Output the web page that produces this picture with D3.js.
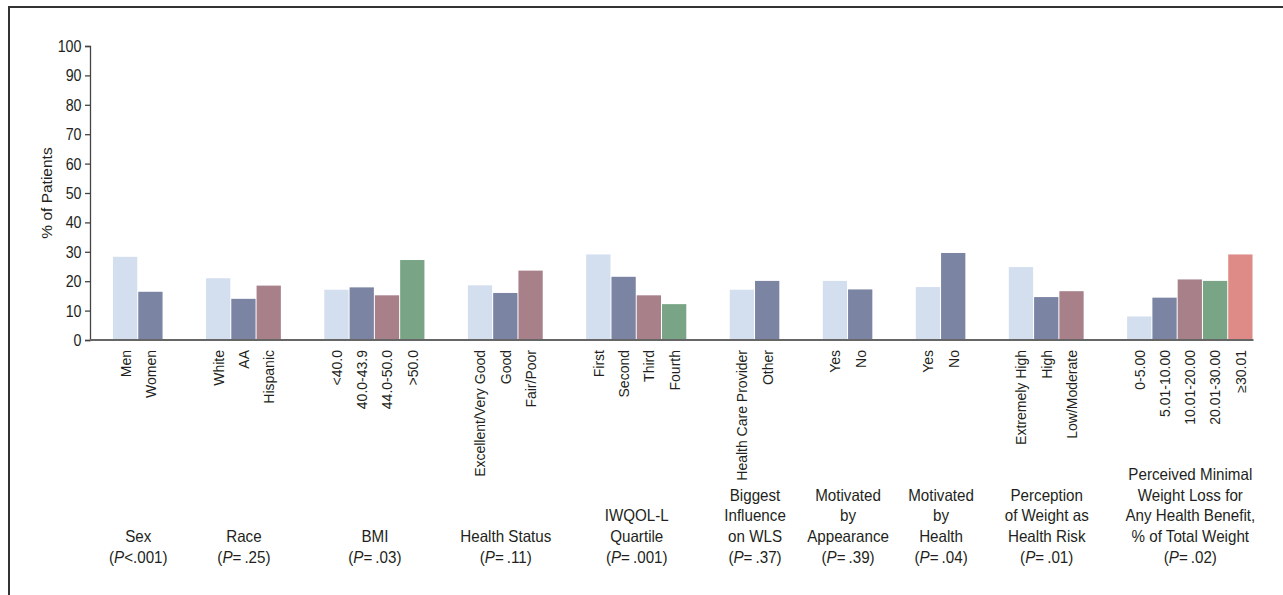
<!DOCTYPE html>
<html>
<head>
<meta charset="utf-8">
<script src="https://cdn.jsdelivr.net/npm/d3@7"></script>
<style>
  body { margin: 0; background: #fff; }
  #chart { width: 1283px; height: 595px; }
  text { fill: #231f20; }
</style>
</head>
<body>
<div id="chart"></div>
<script>
// data
const groupTitles = [
  ['Sex'],
  ['Race'],
  ['BMI'],
  ['Health Status'],
  ['IWQOL-L', 'Quartile'],
  ['Biggest', 'Influence', 'on WLS'],
  ['Motivated', 'by', 'Appearance'],
  ['Motivated', 'by', 'Health'],
  ['Perception', 'of Weight as', 'Health Risk'],
  ['Perceived Minimal', 'Weight Loss for', 'Any Health Benefit,', '% of Total Weight'],
];
const pValues = ['<.001', '=.25', '=.03', '=.11', '=.001', '=.37', '=.39', '=.04', '=.01', '=.02'];
const categories = [
  ['Men', 'Women'],
  ['White', 'AA', 'Hispanic'],
  ['<40.0', '40.0-43.9', '44.0-50.0', '>50.0'],
  ['Excellent/Very Good', 'Good', 'Fair/Poor'],
  ['First', 'Second', 'Third', 'Fourth'],
  ['Health Care Provider', 'Other'],
  ['Yes', 'No'],
  ['Yes', 'No'],
  ['Extremely High', 'High', 'Low/Moderate'],
  ['0-5.00', '5.01-10.00', '10.01-20.00', '20.01-30.00', '\u226530.01'],
];
const values = [
  [28.3, 16.4],
  [21.0, 14.0, 18.5],
  [17.1, 17.9, 15.2, 27.2],
  [18.6, 16.0, 23.6],
  [29.1, 21.5, 15.2, 12.2],
  [17.1, 20.1],
  [20.1, 17.2],
  [18.0, 29.6],
  [24.8, 14.6, 16.6],
  [8.0, 14.4, 20.6, 20.1, 29.1],
];
const yTicks = [0, 10, 20, 30, 40, 50, 60, 70, 80, 90, 100];
const barColors = ['#d3deef', '#7b84a3', '#a8808a', '#79a586', '#de8a87'];

const width = 1283;
const height = 595;
const axisX = 90;
const gapUnits = 1.68; // space between groups, in bar widths
const sans = '"Liberation Sans", Arial, sans-serif';
// the figure uses a condensed face, so squeeze horizontal text a little
const tickSqueeze = 0.84;
const titleSqueeze = 0.92;

// flatten bars, keeping their slot position in "bar units"
const bars = [];
const groups = [];
let unit = 0;
categories.forEach((cats, g) => {
  const start = unit;
  cats.forEach((c, i) => {
    bars.push({ group: g, index: i, label: c, value: values[g][i], pos: unit });
    unit += 1;
  });
  groups.push({ lines: groupTitles[g], p: pValues[g], start: start, end: unit });
  if (g < categories.length - 1) unit += gapUnits;
});

const xScale = d3.scaleLinear().domain([0, unit]).range([113, 1253.5]);
const yScale = d3.scaleLinear().domain([0, 100]).range([340, 46]);
const slot = xScale(1) - xScale(0);

const svg = d3.select('#chart').append('svg')
  .attr('width', width)
  .attr('height', height);

// frame (only top and left edges show)
svg.append('path')
  .attr('d', 'M9,' + height + 'V7H' + width)
  .attr('fill', 'none')
  .attr('stroke', '#333')
  .attr('stroke-width', 2);

// bars
svg.append('g').attr('class', 'bars')
  .selectAll('rect')
  .data(bars)
  .enter()
  .append('rect')
  .attr('x', (d) => xScale(d.pos))
  .attr('width', slot - 1)
  .attr('y', (d) => yScale(d.value))
  .attr('height', (d) => yScale(0) - yScale(d.value))
  .attr('fill', (d) => barColors[d.index]);

// y axis
const yAxis = svg.append('g')
  .attr('transform', 'translate(' + axisX + ',0)')
  .call(d3.axisLeft(yScale).tickValues(yTicks).tickSize(5).tickPadding(3));
yAxis.select('.domain').attr('stroke', '#444').attr('stroke-width', 1.3);
yAxis.selectAll('.tick line').attr('stroke', '#444').attr('stroke-width', 1.3);
yAxis.selectAll('.tick text')
  .attr('x', -8.5 / tickSqueeze)
  .attr('transform', 'scale(' + tickSqueeze + ',1)')
  .attr('font-family', sans)
  .attr('font-size', 17)
  .attr('fill', '#231f20');

// baseline
svg.append('line')
  .attr('x1', axisX)
  .attr('x2', xScale(unit))
  .attr('y1', yScale(0))
  .attr('y2', yScale(0))
  .attr('stroke', '#666')
  .attr('stroke-width', 2);

// y title
svg.append('text')
  .attr('transform', 'translate(52,' + (yScale(0) + yScale(100)) / 2 + ') rotate(-90)')
  .attr('text-anchor', 'middle')
  .attr('font-family', sans)
  .attr('font-size', 15.5)
  .text('% of Patients');

// category labels, rotated
svg.append('g').attr('class', 'catLabels')
  .selectAll('text')
  .data(bars)
  .enter()
  .append('text')
  .attr('transform', (d) => 'translate(' + (xScale(d.pos) + slot / 2) + ',350) rotate(-90)')
  .attr('text-anchor', 'end')
  .attr('dy', '0.35em')
  .attr('font-family', sans)
  .attr('font-size', 14)
  .text((d) => d.label);

// group titles, bottom aligned
const lineH = 20.8;
const lastY = 563;
const titleG = svg.append('g').attr('class', 'groupTitles')
  .selectAll('text')
  .data(groups)
  .enter()
  .append('text')
  .attr('transform', (d) => 'translate(' + (xScale(d.start) + xScale(d.end)) / 2 + ',0) scale(' + titleSqueeze + ',1)')
  .attr('text-anchor', 'middle')
  .attr('font-family', sans)
  .attr('font-size', 16.5);

titleG.each(function (d) {
  const t = d3.select(this);
  const n = d.lines.length;
  d.lines.forEach((line, i) => {
    t.append('tspan')
      .attr('x', 0)
      .attr('y', lastY - (n - i) * lineH)
      .text(line);
  });
  const pLine = t.append('tspan').attr('x', 0).attr('y', lastY);
  pLine.append('tspan').text('(');
  pLine.append('tspan').attr('font-style', 'italic').text('P');
  pLine.append('tspan').text(d.p.replace('=', '=\u2009') + ')');
});
</script>
</body>
</html>
